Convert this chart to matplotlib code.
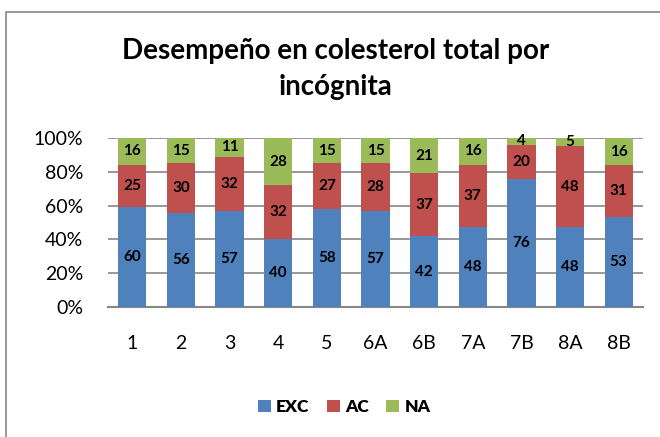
import numpy as np
import matplotlib.pyplot as plt
from matplotlib.patches import Rectangle

plt.rcParams['font.family'] = ['Lato', 'DejaVu Sans']

# data
categories = ['1', '2', '3', '4', '5', '6A', '6B', '7A', '7B', '8A', '8B']
exc = [60, 56, 57, 40, 58, 57, 42, 48, 76, 48, 53]
ac = [25, 30, 32, 32, 27, 28, 37, 37, 20, 48, 31]
na = [16, 15, 11, 28, 15, 15, 21, 16, 4, 5, 16]
series_names = ['EXC', 'AC', 'NA']
colors = ['#4F81BD', '#C0504D', '#9BBB59']

fig = plt.figure(figsize=(6.6, 4.37), dpi=100)
W, H = 660, 437

# outer chart border (only top and left visible)
fig.add_artist(Rectangle((6 / W, -0.1), 1.1, (H - 12) / H + 0.1,
                         transform=fig.transFigure, fill=False,
                         edgecolor='#868686', linewidth=1.2))

ax = fig.add_axes([108 / W, 1 - 307 / H, (643 - 108) / W, (307 - 138) / H])

vals = np.array([exc, ac, na], dtype=float)
pct = vals / vals.sum(axis=0) * 100
x = np.arange(len(categories))
bottom = np.zeros(len(categories))
for i in range(3):
    ax.bar(x, pct[i], 0.58, bottom=bottom, color=colors[i],
           label=series_names[i], zorder=3)
    for j in range(len(categories)):
        ax.text(x[j], bottom[j] + pct[i][j] / 2, str(int(vals[i][j])),
                ha='center', va='center', fontsize=11, fontweight='bold',
                color='black', zorder=4)
    bottom += pct[i]

ax.set_xlim(-0.5, len(categories) - 0.5)
ax.set_ylim(0, 100)
ax.set_yticks(range(0, 101, 20))
ax.set_yticklabels([f'{v}%' for v in range(0, 101, 20)])
ax.set_xticks(x)
ax.set_xticklabels(categories)
ax.tick_params(axis='both', length=0, labelsize=14, colors='black')
ax.tick_params(axis='x', pad=20)
ax.tick_params(axis='y', pad=18)
ax.grid(axis='y', color='#868686', linewidth=1.2, zorder=0)
for s in ['top', 'right', 'left']:
    ax.spines[s].set_visible(False)
ax.spines['bottom'].set_color('#868686')
ax.spines['bottom'].set_linewidth(1.5)

fig.text(336 / W, 1 - 69 / H, 'Desempeño en colesterol total por\nincógnita',
         ha='center', va='center', fontsize=20, fontweight='bold',
         linespacing=1.45)

leg = fig.legend(loc='center', bbox_to_anchor=(344 / W, 1 - 407 / H), ncol=3,
                 frameon=False, handlelength=0.75, handleheight=0.75,
                 handletextpad=0.3, columnspacing=1.0,
                 prop={'weight': 'heavy', 'size': 12.5})

fig.savefig('out.png', dpi=100)
